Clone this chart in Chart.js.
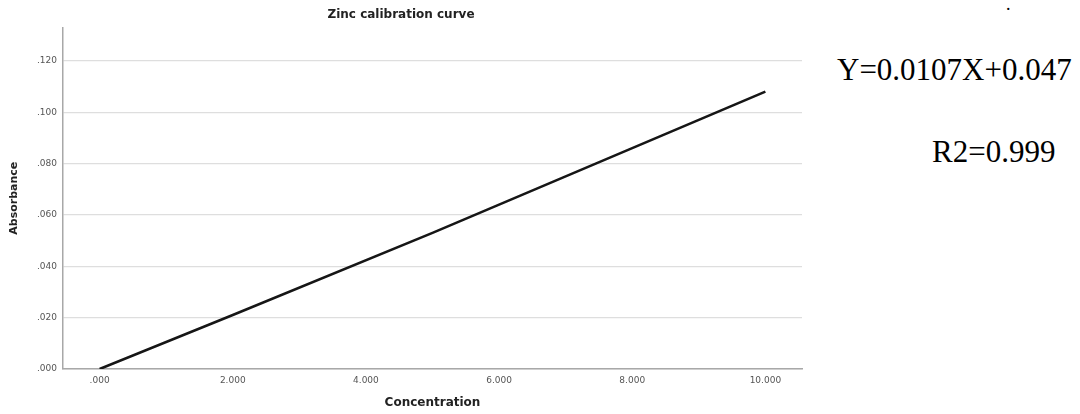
<!DOCTYPE html>
<html>
<head>
<meta charset="utf-8">
<script src="https://cdn.jsdelivr.net/npm/chart.js@4"></script>
<style>
  html, body { margin: 0; padding: 0; background: #fff; }
  body { width: 1080px; height: 414px; position: relative; overflow: hidden; }
  #chart-box { position: absolute; left: 0; top: 0; width: 810px; height: 414px; }
  .note { position: absolute; font-family: "Liberation Serif", "Times New Roman", serif; font-size: 31px; line-height: 31px; color: #000; white-space: nowrap; }
</style>
</head>
<body>
<div id="chart-box"><canvas id="zinc-chart"></canvas></div>
<div class="note" style="left:837px; top:54px;">Y=0.0107X+0.047</div>
<div class="note" style="left:932px; top:136px;">R2=0.999</div>
<div class="note" style="left:1006px; top:-11px; font-size:18px;">.</div>

<script>
// calibration data
const concentration = [0, 2, 5, 10];
const absorbance = [0.000, 0.021, 0.053, 0.108];

const xTickValues = [0, 2, 4, 6, 8, 10];
const xTickLabels = [".000", "2.000", "4.000", "6.000", "8.000", "10.000"];
const yTickValues = [0, 0.02, 0.04, 0.06, 0.08, 0.1, 0.12];
const yTickLabels = [".000", ".020", ".040", ".060", ".080", ".100", ".120"];

const points = concentration.map((c, i) => ({ x: c, y: absorbance[i] }));

// label lookup for a tick value
function labelFor(values, labels, v) {
  const i = values.findIndex((t) => Math.abs(t - v) < 1e-9);
  return i >= 0 ? labels[i] : "";
}

const ctx = document.getElementById("zinc-chart").getContext("2d");
new Chart(ctx, {
  type: "scatter",
  data: {
    datasets: [
      {
        label: "Absorbance",
        data: points,
        showLine: true,
        borderColor: "#161616",
        borderWidth: 2.6,
        pointRadius: 0,
        tension: 0,
      },
    ],
  },
  options: {
    responsive: true,
    maintainAspectRatio: false,
    devicePixelRatio: 1,
    animation: false,
    layout: { padding: { top: 0, right: 8, bottom: 0, left: 0 } },
    plugins: {
      legend: { display: false },
      tooltip: { enabled: false },
      title: {
        display: true,
        text: "Zinc calibration curve",
        color: "#222",
        font: { family: "DejaVu Sans", size: 12, weight: "bold" },
        padding: { top: 8, bottom: 5 },
      },
    },
    scales: {
      x: {
        type: "linear",
        min: -0.55,
        max: 10.55,
        afterBuildTicks: (s) => { s.ticks = xTickValues.map((v) => ({ value: v })); },
        afterFit: (s) => { s.height = 45; },
        grid: { display: false, drawTicks: false },
        border: { display: true, color: "#a8a8a8", width: 1.5 },
        ticks: {
          padding: 6,
          maxRotation: 0,
          color: "#555",
          font: { family: "DejaVu Sans", size: 9 },
          callback: (v) => labelFor(xTickValues, xTickLabels, v),
        },
        title: {
          display: true,
          text: "Concentration",
          color: "#222",
          font: { family: "DejaVu Sans", size: 12, weight: "bold" },
          padding: { top: 0, bottom: 4 },
        },
      },
      y: {
        type: "linear",
        min: 0,
        max: 0.133,
        afterBuildTicks: (s) => { s.ticks = yTickValues.map((v) => ({ value: v })); },
        afterFit: (s) => { s.width = 63; },
        grid: { color: "#dedede", lineWidth: 1.2, drawTicks: false },
        border: { display: true, color: "#a8a8a8", width: 1.5 },
        ticks: {
          padding: 6,
          color: "#555",
          font: { family: "DejaVu Sans", size: 9 },
          callback: (v) => labelFor(yTickValues, yTickLabels, v),
        },
        title: {
          display: true,
          text: "Absorbance",
          color: "#222",
          font: { family: "DejaVu Sans", size: 11, weight: "bold" },
          padding: { top: 8, bottom: 0 },
        },
      },
    },
  },
});
</script>
</body>
</html>
